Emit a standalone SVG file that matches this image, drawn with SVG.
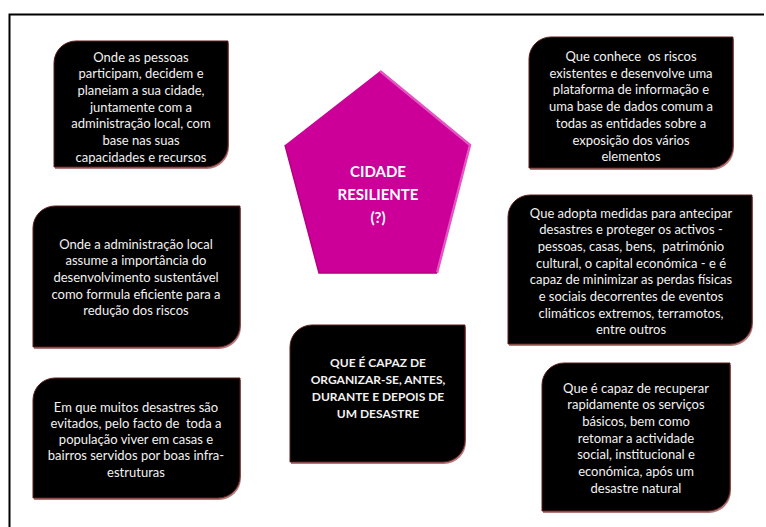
<svg xmlns="http://www.w3.org/2000/svg" width="766" height="527" viewBox="0 0 766 527">
<style>
.box{fill:#000;stroke:#5e1c1c;stroke-width:1}
.sh{fill:#b07a7a}
.t{font-family:Lato,"Open Sans",sans-serif;font-size:13px;fill:#f2f2f2;text-anchor:middle}
.tb{font-family:Lato,"Open Sans",sans-serif;font-size:12px;font-weight:bold;fill:#f2f2f2;text-anchor:middle}
.tp{font-family:Lato,"Open Sans",sans-serif;font-size:15px;font-weight:bold;fill:#fff;text-anchor:middle}
</style>
<rect width="766" height="527" fill="#fff"/>
<path d="M9.5 540 V14.5 H764" fill="none" stroke="#000" stroke-width="2"/>
<g id="connectors"/>
<g id="n1">
<path class="sh" d="M76 43 H229 V147 A22 22 0 0 1 207 169 H55 V65 A22 22 0 0 1 76 43 Z"/>
<path class="box" d="M76 41 H228 V145 A22 22 0 0 1 206 167 H54 V63 A22 22 0 0 1 76 41 Z"/>
<text class="t"><tspan x="141" y="61.5">Onde as pessoas</tspan><tspan x="141" y="78.2">participam, decidem e</tspan><tspan x="141" y="94.9">planeiam a sua cidade,</tspan><tspan x="141" y="111.6">juntamente com a</tspan><tspan x="141" y="128.3">administração local, com</tspan><tspan x="141" y="145">base nas suas</tspan><tspan x="141" y="161.7">capacidades e recursos</tspan></text>
</g>
<g id="n2">
<path class="sh" d="M552 39 H734 V148 A22 22 0 0 1 712 170 H530 V61 A22 22 0 0 1 552 39 Z"/>
<path class="box" d="M551 37 H733 V146 A22 22 0 0 1 711 168 H529 V59 A22 22 0 0 1 551 37 Z"/>
<text class="t" xml:space="preserve"><tspan x="631" y="61">Que conhece  os riscos</tspan><tspan x="631" y="77.7">existentes e desenvolve uma</tspan><tspan x="631" y="94.4">plataforma de informação e</tspan><tspan x="631" y="111.1">uma base de dados comum a</tspan><tspan x="631" y="127.8">todas as entidades sobre a</tspan><tspan x="631" y="144.5">exposição dos vários</tspan><tspan x="631" y="161.2">elementos</tspan></text>
</g>
<g id="n0">
<polygon points="380,71 470,145 437,273 319,273 285,145" fill="#cc0099"/>
<polyline points="380,71 470,145 437,273" fill="none" stroke="#e455c4" stroke-width="2.5"/>
<polyline points="285,145 319,273 437,273" fill="none" stroke="#b3007f" stroke-width="1.5"/>
<text class="tp"><tspan x="378" y="177">CIDADE</tspan><tspan x="378" y="200">RESILIENTE</tspan><tspan x="378" y="223">(?)</tspan></text>
</g>
<g id="n3">
<path class="sh" d="M56 208 H241 V327 A22 22 0 0 1 219 349 H34 V230 A22 22 0 0 1 56 208 Z"/>
<path class="box" d="M55 206 H240 V325 A22 22 0 0 1 218 347 H33 V228 A22 22 0 0 1 55 206 Z"/>
<text class="t"><tspan x="136" y="248.5">Onde a administração local</tspan><tspan x="136" y="265.2">assume a importância do</tspan><tspan x="136" y="281.9">desenvolvimento sustentável</tspan><tspan x="136" y="298.6">como formula eficiente para a</tspan><tspan x="136" y="315.3">redução dos riscos</tspan></text>
</g>
<g id="n4">
<path class="sh" d="M531 197 H753 V324 A22 22 0 0 1 731 346 H509 V219 A22 22 0 0 1 531 197 Z"/>
<path class="box" d="M530 195 H752 V322 A22 22 0 0 1 730 344 H508 V217 A22 22 0 0 1 530 195 Z"/>
<text class="t" xml:space="preserve"><tspan x="631" y="217.5">Que adopta medidas para antecipar</tspan><tspan x="631" y="234.2">desastres e proteger os activos -</tspan><tspan x="631" y="250.9">pessoas, casas, bens,  património</tspan><tspan x="631" y="267.6">cultural, o capital económica - e é</tspan><tspan x="631" y="284.3">capaz de minimizar as perdas físicas</tspan><tspan x="631" y="301">e sociais decorrentes de eventos</tspan><tspan x="631" y="317.7">climáticos extremos, terramotos,</tspan><tspan x="631" y="334.4">entre outros</tspan></text>
</g>
<g id="n5">
<path class="sh" d="M56 380 H241 V478 A22 22 0 0 1 219 500 H34 V402 A22 22 0 0 1 56 380 Z"/>
<path class="box" d="M55 378 H240 V476 A22 22 0 0 1 218 498 H33 V400 A22 22 0 0 1 55 378 Z"/>
<text class="t" xml:space="preserve"><tspan x="136" y="411.5">Em que muitos desastres são</tspan><tspan x="136" y="427.8">evitados, pelo facto de  toda a</tspan><tspan x="136" y="444.1">população viver em casas e</tspan><tspan x="136" y="460.4">bairros servidos por boas infra-</tspan><tspan x="136" y="476.7">estruturas</tspan></text>
</g>
<g id="n6">
<path class="sh" d="M313 327 H466 V442 A22 22 0 0 1 444 464 H291 V349 A22 22 0 0 1 313 327 Z"/>
<path class="box" d="M312 325 H465 V440 A22 22 0 0 1 443 462 H290 V347 A22 22 0 0 1 312 325 Z"/>
<text class="tb"><tspan x="378" y="367">QUE É CAPAZ DE</tspan><tspan x="378" y="384">ORGANIZAR-SE, ANTES,</tspan><tspan x="378" y="401">DURANTE E DEPOIS DE</tspan><tspan x="378" y="418">UM DESASTRE</tspan></text>
</g>
<g id="n7">
<path class="sh" d="M565 365 H731 V491 A22 22 0 0 1 709 513 H543 V387 A22 22 0 0 1 565 365 Z"/>
<path class="box" d="M564 363 H730 V489 A22 22 0 0 1 708 511 H542 V385 A22 22 0 0 1 564 363 Z"/>
<text class="t"><tspan x="636" y="392.5">Que é capaz de recuperar</tspan><tspan x="636" y="409.2">rapidamente os serviços</tspan><tspan x="636" y="425.9">básicos, bem como</tspan><tspan x="636" y="442.6">retomar a actividade</tspan><tspan x="636" y="459.3">social, institucional e</tspan><tspan x="636" y="476">económica, após um</tspan><tspan x="636" y="492.7">desastre natural</tspan></text>
</g>
</svg>
